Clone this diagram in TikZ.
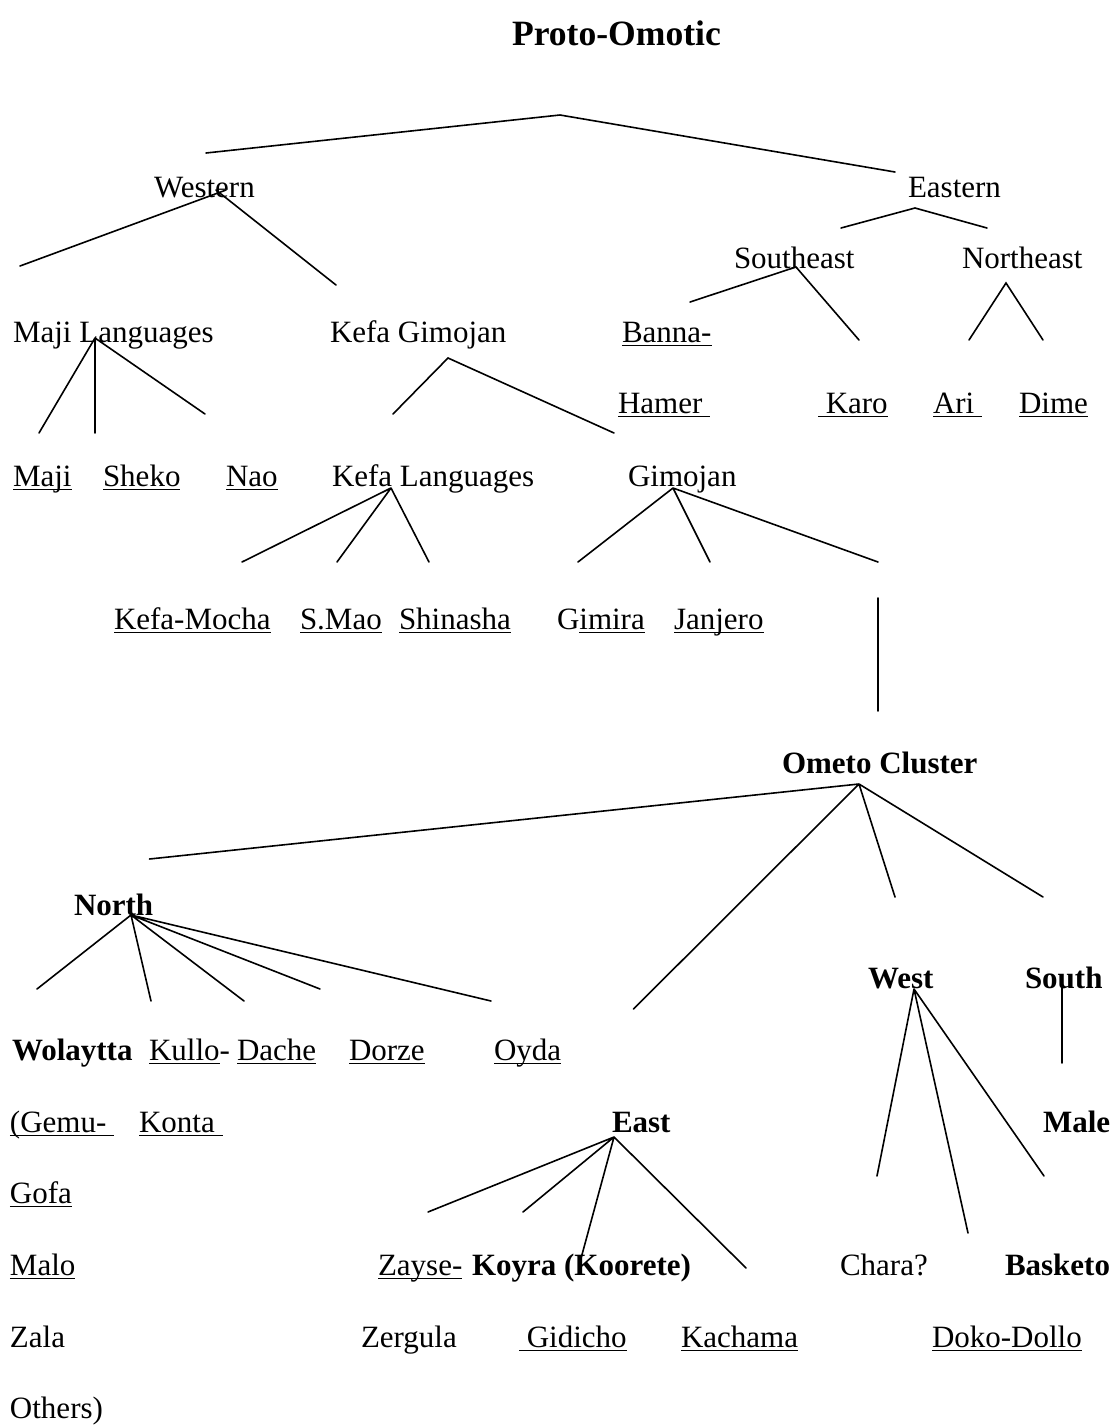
\documentclass[tikz,border=0pt]{standalone}
\usepackage{fontspec}
\setmainfont{Liberation Serif}
\newcommand\ulx[1]{\leavevmode\setbox0\hbox{#1}\rlap{\rule[-2.1pt]{\wd0}{0.8pt}}\box0}
\tikzset{
  lbl/.style={anchor=base west, inner sep=0pt, outer sep=0pt, font=\fontsize{15.5pt}{18pt}\selectfont},
  bl/.style={lbl, font=\fontsize{15.5pt}{18pt}\selectfont\bfseries},
  ttl/.style={lbl, font=\fontsize{17.8pt}{20pt}\selectfont\bfseries},
  edge/.style={line width=0.8pt, line cap=round}
}
\begin{document}
\begin{tikzpicture}[x=0.5pt,y=-0.5pt]
\useasboundingbox (0,0) rectangle (1113,1425);
% ---------- labels ----------
\node[ttl] (proto) at (512,45) {Proto-Omotic};
\node[lbl] (western) at (154,197) {Western};
\node[lbl] (eastern) at (908,197) {Eastern};
\node[lbl] (southeast) at (734,268) {Southeast};
\node[lbl] (northeast) at (962,268) {Northeast};
\node[lbl] (majil) at (13,342) {Maji Languages};
\node[lbl] (kefagim) at (330,342) {Kefa Gimojan};
\node[lbl] (banna) at (622,342) {\ulx{Banna-}};
\node[lbl] (hamer) at (618,413) {\ulx{Hamer\ }};
\node[lbl] (karo) at (818,413) {\ulx{\ Karo}};
\node[lbl] (ari) at (933,413) {\ulx{Ari\ }};
\node[lbl] (dime) at (1019,413) {\ulx{Dime}};
\node[lbl] (maji) at (13,486) {\ulx{Maji}};
\node[lbl] (sheko) at (103,486) {\ulx{Sheko}};
\node[lbl] (nao) at (226,486) {\ulx{Nao}};
\node[lbl] (kefal) at (332,486) {Kefa Languages};
\node[lbl] (gimojan) at (628,486) {Gimojan};
\node[lbl] (kefamocha) at (114,629) {\ulx{Kefa-Mocha}};
\node[lbl] (smao) at (300,629) {\ulx{S.Mao}};
\node[lbl] (shinasha) at (399,629) {\ulx{Shinasha}};
\node[lbl] (gimira) at (557,629) {G\ulx{imira}};
\node[lbl] (janjero) at (674,629) {\ulx{Janjero}};
\node[bl] (ometo) at (782,773) {Ometo Cluster};
\node[bl] (north) at (74,915) {North};
\node[bl] (west) at (868,988) {West};
\node[bl] (south) at (1025,988) {South};
\node[bl] (wolaytta) at (12,1060) {Wolaytta};
\node[lbl] (kullo) at (149,1060) {\ulx{Kullo}-};
\node[lbl] (dache) at (237,1060) {\ulx{Dache}};
\node[lbl] (dorze) at (349,1060) {\ulx{Dorze}};
\node[lbl] (oyda) at (494,1060) {\ulx{Oyda}};
\node[lbl] (gemu) at (10,1132) {\ulx{(Gemu-\ }};
\node[lbl] (konta) at (139,1132) {\ulx{Konta\ }};
\node[bl] (east) at (612,1132) {East};
\node[bl] (male) at (1043,1132) {Male};
\node[lbl] (gofa) at (10,1203) {\ulx{Gofa}};
\node[lbl] (malo) at (10,1275) {\ulx{Malo}};
\node[lbl] (zayse) at (378,1275) {\ulx{Zayse-}};
\node[bl] (koyra) at (472,1275) {Koyra (Koorete)};
\node[lbl] (chara) at (840,1275) {Chara?};
\node[bl] (basketo) at (1005,1275) {Basketo};
\node[lbl] (zala) at (10,1347) {Zala};
\node[lbl] (zergula) at (361,1347) {Zergula};
\node[lbl] (gidicho) at (519,1347) {\ulx{\ Gidicho}};
\node[lbl] (kachama) at (681,1347) {\ulx{Kachama}};
\node[lbl] (doko) at (932,1347) {\ulx{Doko-Dollo}};
\node[lbl] (others) at (10,1418) {Others)};
% ---------- connector points ----------
\coordinate (pL) at (206,153);
\coordinate (pA) at (560,115);
\coordinate (pR) at (895,172);
\coordinate (wA1) at (226,190);
\coordinate (wA2) at (216,190);
\coordinate (wL) at (20,266);
\coordinate (wR) at (336,285);
\coordinate (eA) at (915,208);
\coordinate (eL) at (841,228);
\coordinate (eR) at (987,228);
\coordinate (seA) at (796,267);
\coordinate (seL) at (690,302);
\coordinate (seR) at (859,340);
\coordinate (neA) at (1006,283);
\coordinate (neL) at (969,340);
\coordinate (neR) at (1043,340);
\coordinate (mA) at (95,338);
\coordinate (m1) at (39,433);
\coordinate (m2) at (95,433);
\coordinate (m3) at (205,414);
\coordinate (kgA) at (448,358);
\coordinate (kg1) at (393,414);
\coordinate (kg2) at (614,433);
\coordinate (klA) at (391,488);
\coordinate (kl1) at (242,562);
\coordinate (kl2) at (337,562);
\coordinate (kl3) at (429,562);
\coordinate (gA) at (673,488);
\coordinate (g1) at (578,562);
\coordinate (g2) at (710,562);
\coordinate (g3) at (878,562);
\coordinate (vT) at (878,598);
\coordinate (vB) at (878,711);
\coordinate (oA) at (859,784);
\coordinate (o1) at (149.5,859);
\coordinate (o2) at (633.5,1009);
\coordinate (o3) at (895,897);
\coordinate (o4) at (1043,897);
\coordinate (nA) at (131,915);
\coordinate (n1) at (37,989);
\coordinate (n2) at (151,1001);
\coordinate (n3) at (244,1001);
\coordinate (n4) at (320,989);
\coordinate (n5) at (491,1001);
\coordinate (wsA) at (914,989);
\coordinate (ws1) at (877,1176);
\coordinate (ws2) at (968,1233);
\coordinate (ws3) at (1044,1176);
\coordinate (sT) at (1062,987);
\coordinate (sB) at (1062,1063);
\coordinate (esA) at (614,1137);
\coordinate (es1) at (428,1212);
\coordinate (es2) at (523,1212);
\coordinate (es3) at (580,1262);
\coordinate (es4) at (746,1268);
% ---------- connectors ----------
\draw[edge] (pL) -- (pA) -- (pR);
\draw[edge] (wL) -- (wA1);
\draw[edge] (wA2) -- (wR);
\draw[edge] (eL) -- (eA) -- (eR);
\draw[edge] (seL) -- (seA) -- (seR);
\draw[edge] (neL) -- (neA) -- (neR);
\draw[edge] (mA) -- (m1) (mA) -- (m2) (mA) -- (m3);
\draw[edge] (kg1) -- (kgA) -- (kg2);
\draw[edge] (klA) -- (kl1) (klA) -- (kl2) (klA) -- (kl3);
\draw[edge] (gA) -- (g1) (gA) -- (g2) (gA) -- (g3);
\draw[edge] (vT) -- (vB);
\draw[edge] (oA) -- (o1) (oA) -- (o2) (oA) -- (o3) (oA) -- (o4);
\draw[edge] (nA) -- (n1) (nA) -- (n2) (nA) -- (n3) (nA) -- (n4) (nA) -- (n5);
\draw[edge] (wsA) -- (ws1) (wsA) -- (ws2) (wsA) -- (ws3);
\draw[edge] (sT) -- (sB);
\draw[edge] (esA) -- (es1) (esA) -- (es2) (esA) -- (es3) (esA) -- (es4);
\end{tikzpicture}
\end{document}
